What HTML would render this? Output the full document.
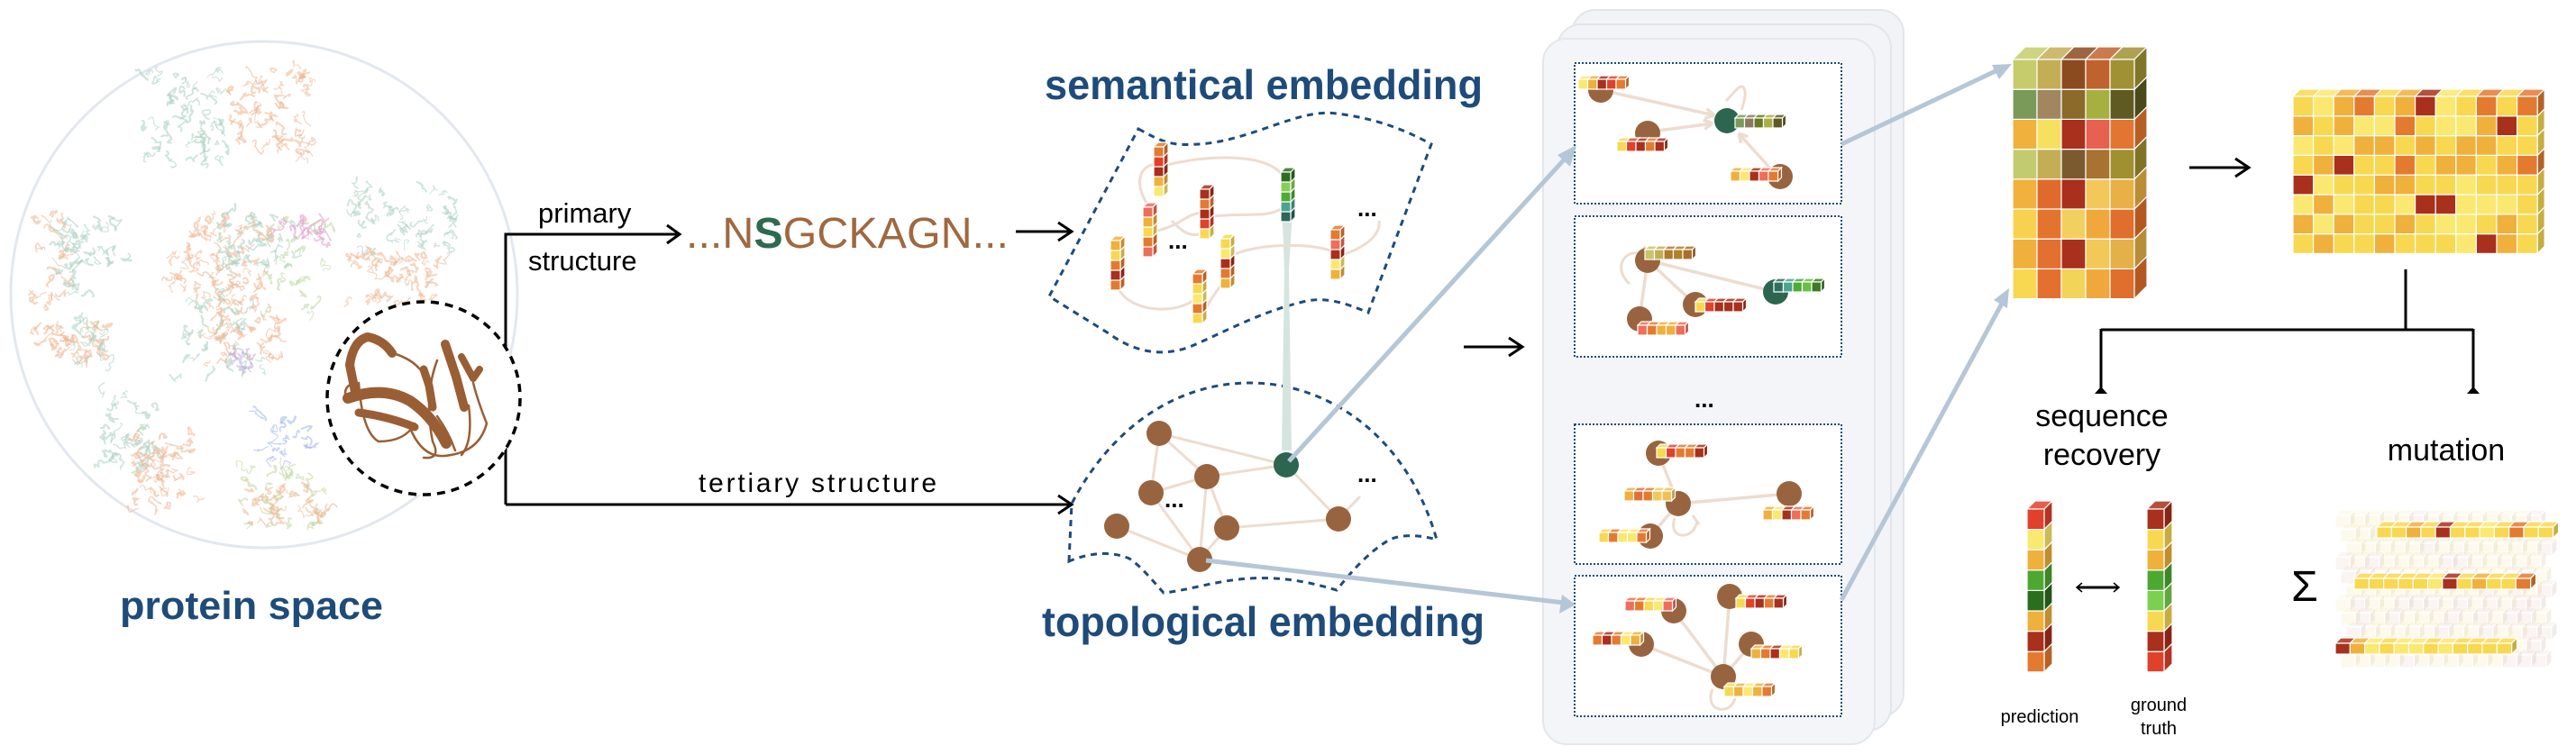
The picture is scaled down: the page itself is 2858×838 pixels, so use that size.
<!DOCTYPE html>
<html><head><meta charset="utf-8"><style>
html,body{margin:0;padding:0;background:#fff;}
svg{display:block;}
text{font-family:"Liberation Sans",sans-serif;}
</style></head><body>
<svg id="s" xmlns="http://www.w3.org/2000/svg" width="2858" height="838" viewBox="0 0 2858 838">
<rect width="2858" height="838" fill="#fff"/>
<circle cx="293" cy="327" r="281" fill="#fff" stroke="#E3E8EF" stroke-width="3"/>
<g id="prot"></g>
<g stroke="#000" stroke-width="3" fill="none">
<path d="M561,560 V260 H752"/>
<path d="M740,250 L754,260 L740,270"/>
<path d="M561,560 H1188"/>
<path d="M1174,550 L1189,560 L1174,570"/>
<path d="M1127,257 H1188"/>
<path d="M1174,247 L1189,257 L1174,267"/>
<path d="M1624,385 H1688"/>
<path d="M1674,375 L1689,385 L1674,395"/>
</g>
<circle cx="470" cy="442" r="107" fill="#fff" stroke="#000" stroke-width="3.5" stroke-dasharray="9,7"/>
<g id="ribbon" fill="none" stroke="#9A5E34" stroke-linecap="round" stroke-linejoin="round"></g>
<text x="597" y="247" font-size="31">primary</text>
<text x="586" y="300" font-size="31">structure</text>
<text x="761" y="275" font-size="48" fill="#A0683F" textLength="358" lengthAdjust="spacingAndGlyphs">...N<tspan fill="#2D6B50" font-weight="bold">S</tspan>GCKAGN...</text>
<text x="775" y="546" font-size="30" textLength="264">tertiary structure</text>
<text x="133" y="687" font-size="44" font-weight="bold" fill="#1E4B7A" textLength="292" lengthAdjust="spacingAndGlyphs">protein space</text>

<text x="1159" y="110" font-size="46" font-weight="bold" fill="#1E4B7A" textLength="486" lengthAdjust="spacingAndGlyphs">semantical embedding</text>
<text x="1156" y="706" font-size="46" font-weight="bold" fill="#1E4B7A" textLength="491" lengthAdjust="spacingAndGlyphs">topological embedding</text>
<path d="M1263,143 C1290,158 1300,162 1330,160 C1390,156 1440,120 1483,126 C1530,132 1560,145 1588,160 L1518,347 C1490,335 1470,330 1450,334 C1400,345 1360,368 1320,385 C1290,396 1260,392 1230,370 L1164,329 Z" fill="none" stroke="#1E4B7A" stroke-width="3" stroke-dasharray="7,6"/>
<path d="M1186,623 L1189,559 C1230,480 1300,425 1387,425 C1470,425 1560,480 1594,599 C1570,592 1550,594 1540,600 C1515,615 1495,640 1483,655 C1450,645 1420,640 1387,642 C1350,644 1320,655 1291,658 C1275,640 1265,628 1253,620 C1230,610 1205,615 1186,623 Z" fill="none" stroke="#1E4B7A" stroke-width="3" stroke-dasharray="7,6"/>
<path d="M1421,200 L1436,200 L1430,300 L1433,500 L1422,500 L1425,300 Z" fill="#D6E4DF"/>
<g stroke="#EDDCD0" stroke-width="3" fill="none">
<path d="M1272,225 C1260,205 1262,185 1282,182"/>
<path d="M1295,183 C1340,172 1400,170 1421,192"/>
<path d="M1284,256 C1310,250 1315,238 1333,236"/>
<path d="M1347,240 C1380,236 1405,242 1421,232"/>
<path d="M1240,318 C1250,345 1300,350 1323,334"/>
<path d="M1370,282 C1400,270 1450,270 1476,278"/>
<path d="M1492,282 C1520,272 1532,258 1530,245"/>
<path d="M1339,340 C1345,330 1350,322 1354,318"/>
<path d="M1330,260 C1320,262 1312,258 1300,245"/>
</g>
<text x="1296" y="276" font-size="26" font-weight="bold">...</text>
<text x="1506" y="240" font-size="26" font-weight="bold">...</text>
<g id="sem"></g>
<g stroke="#EDDCD0" stroke-width="3">
<line x1="1286" y1="481" x2="1427" y2="516"/><line x1="1286" y1="481" x2="1339" y2="529"/>
<line x1="1286" y1="481" x2="1277" y2="547"/><line x1="1339" y1="529" x2="1427" y2="516"/>
<line x1="1277" y1="547" x2="1339" y2="529"/><line x1="1277" y1="547" x2="1331" y2="621"/>
<line x1="1239" y1="584" x2="1331" y2="621"/><line x1="1339" y1="529" x2="1331" y2="621"/>
<line x1="1339" y1="529" x2="1361" y2="586"/><line x1="1361" y1="586" x2="1331" y2="621"/>
<line x1="1361" y1="586" x2="1485" y2="576"/><line x1="1427" y1="516" x2="1485" y2="576"/>
<line x1="1485" y1="576" x2="1509" y2="551"/>
</g>
<g fill="#98643F">
<circle cx="1286" cy="481" r="14"/><circle cx="1339" cy="529" r="14"/><circle cx="1277" cy="547" r="14"/>
<circle cx="1239" cy="584" r="14"/><circle cx="1361" cy="586" r="14"/><circle cx="1331" cy="621" r="14"/>
<circle cx="1485" cy="576" r="14"/>
</g>
<circle cx="1427" cy="516" r="14" fill="#2D6650"/>
<text x="1292" y="563" font-size="26" font-weight="bold">...</text>
<text x="1506" y="535" font-size="26" font-weight="bold">...</text>

<rect x="1744" y="11" width="368" height="784" rx="26" fill="#F1F3F6" stroke="#E2E5EA" stroke-width="2"/>
<rect x="1728" y="27" width="370" height="784" rx="26" fill="#F2F4F7" stroke="#E2E5EA" stroke-width="2"/>
<rect x="1712" y="43" width="368" height="783" rx="26" fill="#F3F5F8" stroke="#E4E7EC" stroke-width="2"/>
<g fill="#fff" stroke="#1E4B7A" stroke-width="2" stroke-dasharray="2,2">
<rect x="1747" y="70" width="296" height="156"/>
<rect x="1747" y="240" width="296" height="156"/>
<rect x="1747" y="471" width="296" height="155"/>
<rect x="1747" y="639" width="296" height="156"/>
</g>
<text x="1880" y="452" font-size="26" font-weight="bold">...</text>
<g id="panels"></g>

<g stroke="#B5C6D6" stroke-width="5" fill="none">
<line x1="1430" y1="512" x2="1740" y2="172"/>
<line x1="1338" y1="622" x2="1735" y2="669"/>
<line x1="2043" y1="160" x2="2218" y2="77"/>
<line x1="2043" y1="666" x2="2222" y2="335"/>
</g>
<g fill="#B5C6D6">
<polygon points="1749,161 1742,185 1728,172"/>
<polygon points="1748,671 1730,681 1733,660"/>
<polygon points="2232,71 2218,88 2210,72"/>
<polygon points="2229,320 2227,342 2212,333"/>
</g>

<g id="tensor"></g>
<g stroke="#000" stroke-width="3" fill="none">
<path d="M2429,186 H2494"/><path d="M2480,176 L2495,186 L2480,196"/>
<path d="M2669,299 V366 M2331,366 H2744 M2331,365 V433 M2744,365 V433"/>
<path d="M2305,652 H2350"/>
</g>
<polygon points="2324,437 2331,429 2338,437" fill="#000"/>
<polygon points="2737,437 2744,429 2751,437" fill="#000"/>
<path d="M2310,647 L2304,652 L2310,657 M2345,647 L2351,652 L2345,657" stroke="#000" stroke-width="1.5" fill="none"/>
<g id="grid"></g>
<text x="2332" y="473" font-size="34" text-anchor="middle">sequence</text>
<text x="2332" y="516" font-size="34" text-anchor="middle">recovery</text>
<text x="2714" y="511" font-size="34" text-anchor="middle">mutation</text>
<text x="2263" y="802" font-size="20" text-anchor="middle">prediction</text>
<text x="2395" y="789" font-size="20" text-anchor="middle">ground</text>
<text x="2395" y="815" font-size="20" text-anchor="middle">truth</text>
<text x="2557" y="667" font-size="48" text-anchor="middle">Σ</text>
<g id="mut"></g>
</svg>
<script>
var NS="http://www.w3.org/2000/svg";
function el(p,t,a){var e=document.createElementNS(NS,t);for(var k in a)e.setAttribute(k,a[k]);p.appendChild(e);return e;}
var seed=7;function rnd(){seed=(seed*16807)%2147483647;return seed/2147483647;}
function hx(c){return [parseInt(c.substr(1,2),16),parseInt(c.substr(3,2),16),parseInt(c.substr(5,2),16)];}
function sh(c,f){var r=hx(c).map(function(v){return Math.max(0,Math.min(255,Math.round(f>0?v+(255-v)*f:v*(1+f))));});return "rgb("+r.join(",")+")";}
function cube(g,x,y,w,h,d,c,op){
 var a={stroke:"#fff","stroke-width":1.2};if(op!==undefined)a.opacity=op;
 var gg=el(g,"g",a);
 el(gg,"polygon",{points:[x,y,x+d,y-d,x+w+d,y-d,x+w,y].join(","),fill:sh(c,0.15)});
 el(gg,"polygon",{points:[x+w,y,x+w+d,y-d,x+w+d,y+h-d,x+w,y+h].join(","),fill:sh(c,-0.2)});
 el(gg,"rect",{x:x,y:y,width:w,height:h,fill:c});
}
var Y="#F8D850",LY="#FBE870",OY="#F0B03C",O="#E47A30",R="#E0412B",DR="#A8301C",S="#EE6E5A";
function hbar(g,x,y,cols,w,h,d){for(var i=0;i<cols.length;i++)cube(g,x+i*w,y,w,h,d,cols[i]);}
function vcol(g,x,y,cols,w,h,d){for(var i=cols.length-1;i>=0;i--)cube(g,x,y+i*h,w,h,d,cols[i]);}
var pg=document.getElementById("prot");
function cluster(x0,y0,x1,y1,col,n){for(var i=0;i<n;i++){var x=x0+rnd()*(x1-x0),y=y0+rnd()*(y1-y0);var p="M"+x+","+y;for(var j=0;j<3;j++){p+=" q"+(rnd()*14-7)+","+(rnd()*14-7)+" "+(rnd()*14-7)+","+(rnd()*14-7);}el(pg,"path",{d:p,fill:"none",stroke:col,"stroke-width":1+rnd()*1.4,opacity:0.55});}}
var T="#A9CFC0",OR="#EDB490";
cluster(161,75,253,180,T,60);cluster(255,70,345,180,OR,60);
cluster(35,240,80,390,OR,35);cluster(60,240,147,300,T,35);cluster(75,250,92,350,T,15);cluster(45,360,125,400,OR,30);cluster(80,355,125,400,T,18);
cluster(190,240,300,330,OR,80);cluster(240,240,330,300,T,40);cluster(200,320,300,420,T,40);cluster(230,330,310,400,OR,50);cluster(300,240,365,345,"#BBD6A4",30);cluster(300,240,365,265,"#E49ACB",18);cluster(250,390,290,410,"#B9A9D8",10);
cluster(390,205,505,280,T,55);cluster(385,280,490,335,OR,50);
cluster(110,435,175,520,T,40);cluster(145,480,215,565,OR,50);
cluster(290,460,345,520,"#9DB3E4",22);cluster(268,515,365,585,"#BFD79A",30);cluster(275,540,365,585,OR,30);
var rb=document.getElementById("ribbon");
[["M395,440 L388,405 Q392,378 408,374 Q425,377 435,392",10],["M470,410 L476,428 L480,452",9],
 ["M386,442 Q425,428 455,445 Q480,462 495,492",12],["M398,458 Q430,462 460,474",9],
 ["M494,382 L506,418 L515,452",10],["M512,396 L525,420 L532,410",8]].forEach(function(s){el(rb,"path",{d:s[0],"stroke-width":s[1]});});
["M436,392 Q456,398 466,410","M398,425 Q402,480 420,490 Q450,490 460,470","M455,475 Q470,512 500,505 Q532,500 540,470 Q530,445 525,425",
 "M485,462 Q498,480 505,500","M520,450 Q525,490 512,505","M485,400 Q470,440 480,490 Q490,510 470,508","M384,442 Q380,430 392,425"].forEach(function(d){el(rb,"path",{d:d,"stroke-width":2.5});});
var sg=document.getElementById("sem");
var sw=11,shh=11,sd=5;
vcol(sg,1280,163,[O,R,DR,OY,LY],sw,shh,sd);
vcol(sg,1268,230,[S,OY,Y,O,S],sw,shh,sd);
vcol(sg,1331,210,[DR,O,DR,R,Y],sw,shh,sd);
vcol(sg,1232,267,[OY,Y,O,DR,O],sw,shh,sd);
vcol(sg,1323,304,[O,Y,LY,O,Y],sw,shh,sd);
vcol(sg,1354,265,[Y,LY,DR,O,OY],sw,shh,sd);
vcol(sg,1421,191,["#2F6E22","#86CF55","#4FAA36","#4AA590","#2D6659"],sw,shh,sd);
vcol(sg,1476,255,[O,S,DR,LY,OY],sw,shh,sd);
var P=document.getElementById("panels");
function edge(x1,y1,x2,y2,arr){el(P,"line",{x1:x1,y1:y1,x2:x2,y2:y2,stroke:"#EDDCD0","stroke-width":3.5});
 if(arr){var a=Math.atan2(y2-y1,x2-x1),l=11;[0.5,-0.5].forEach(function(k){el(P,"line",{x1:x2,y1:y2,x2:x2-l*Math.cos(a+k),y2:y2-l*Math.sin(a+k),stroke:"#EDDCD0","stroke-width":3.5});});}}
function loop(d){el(P,"path",{d:d,fill:"none",stroke:"#EDDCD0","stroke-width":3});}
function node(x,y,c){el(P,"circle",{cx:x,cy:y,r:14,fill:c||"#98643F"});}
var bw=10.5,bh=11,bd=4;
edge(1790,103,1902,128,1);edge(1840,145,1900,137,1);edge(1965,188,1929,148,1);
loop("M1932,122 C1940,100 1935,92 1928,98 L1915,112");
node(1776,100);node(1828,148);node(1975,196);node(1916,134,"#2D6650");
hbar(P,1751,88,[LY,OY,DR,R,O],bw,bh,bd);
hbar(P,1925,131,["#7A9A5A","#8A7A60","#6A7A22","#A8B040","#5E5A22"],bw,bh,bd);
hbar(P,1794,157,[Y,R,DR,O,DR],bw,bh,bd);
hbar(P,1920,190,[OY,LY,DR,S,O],bw,bh,bd);
edge(1828,289,1970,324);edge(1828,289,1819,354);edge(1828,289,1881,338);
loop("M1822,282 C1800,275 1790,300 1808,315 M1818,280 L1826,274");
node(1828,289);node(1881,338);node(1819,354);node(1970,324,"#2D6650");
hbar(P,1825,277,["#C7C46A","#C4AE55","#B07A2A","#B0802A","#A8702A"],bw,bh,bd);
hbar(P,1968,313,["#2D7060","#4AA590","#4FAA36","#6ABF45","#3D7A22"],bw,bh,bd);
hbar(P,1881,335,[Y,R,DR,DR,DR],bw,bh,bd);
hbar(P,1817,361,[S,O,OY,OY,S],bw,bh,bd);
edge(1840,503,1862,559);edge(1862,559,1985,548);edge(1862,559,1831,595);
loop("M1858,575 C1850,600 1880,600 1883,578 M1878,572 L1885,582");
node(1840,503);node(1862,559);node(1985,548);node(1831,595);
hbar(P,1838,497,[Y,R,O,O,DR],bw,bh,bd);
hbar(P,1802,545,[OY,"#E0703A",O,"#F2C858","#F0C050"],bw,bh,bd);
hbar(P,1956,566,[OY,LY,DR,S,O],bw,bh,bd);
hbar(P,1774,591,[Y,O,LY,LY,O],bw,bh,bd);
edge(1912,751,1857,678);edge(1912,751,1919,662);edge(1912,751,1821,715);edge(1912,751,1943,715);
loop("M1900,765 C1890,790 1920,795 1925,775");
node(1857,678);node(1919,662);node(1821,715);node(1943,715);node(1912,751);
hbar(P,1803,667,[S,O,Y,LY,S],bw,bh,bd);
hbar(P,1926,664,[Y,R,DR,O,DR],bw,bh,bd);
hbar(P,1767,705,[O,DR,O,LY,OY],bw,bh,bd);
hbar(P,1943,720,[OY,O,DR,LY,Y],bw,bh,bd);
hbar(P,1913,762,[Y,OY,LY,OY,O],bw,bh,bd);
var TG=document.getElementById("tensor");
var rows=[["#C6CC6C","#C4AE55","#8C4B1E","#C0622F","#A09234"],["#7A9A5A","#A08760","#8B6A2A","#A6B040","#5E5A22"],
["#F0B23C","#F6E060","#A8301C","#E86050","#E27530"],["#C3CB70","#C4AE55","#7B5A30","#A87232","#A0902F"],
["#F2B13C","#E06A2C","#A8301C","#F3C75A","#E8B045"],["#F6D24E","#E2742E","#F2D060","#F0A83C","#E06E2C"],
["#F0B03C","#E27030","#A8301C","#F2C858","#E6B048"],["#F8D850","#E47030","#F2D458","#F0A83C","#E06E2C"]];
for(var r=7;r>=0;r--)for(var c=0;c<5;c++)cube(TG,2233+c*27,66+r*33.2,27,33.2,14,rows[r][c]);
var G=document.getElementById("grid");
for(var r=7;r>=0;r--)for(var c=0;c<12;c++){var v=rnd();var col=v<0.07?DR:v<0.17?O:v<0.35?OY:v<0.6?LY:Y;cube(G,2544+c*22.6,107+r*21.8,22.6,21.8,8,col);}
vcol(G,2249,565,[R,LY,OY,"#4DA832","#2A6E1E",OY,DR,O],19,22.6,9);
vcol(G,2382,565,[DR,Y,OY,"#4DA832","#7CD050",Y,DR,R],19,22.6,9);
var M=document.getElementById("mut");
for(var r=0;r<11;r++)for(var c=0;c<14;c++){var x=2591+c*16.3+(r%3)*6,y=572+r*15.5;if(x>2830)continue;cube(M,x,y,16,14,6,rnd()<0.3?"#EBC9C0":"#F8E7A8",0.2);}
hbar(M,2637,585,[Y,Y,OY,Y,DR,Y,Y,LY,Y,O,Y,Y],16.3,12,6);
hbar(M,2612,642,[Y,Y,Y,Y,Y,LY,DR,Y,OY,Y,Y,O],16.3,12,6);
hbar(M,2591,714,[DR,OY,LY,Y,LY,LY,Y,LY,Y,Y,Y,Y],16.3,12,6);
</script>
</body></html>
